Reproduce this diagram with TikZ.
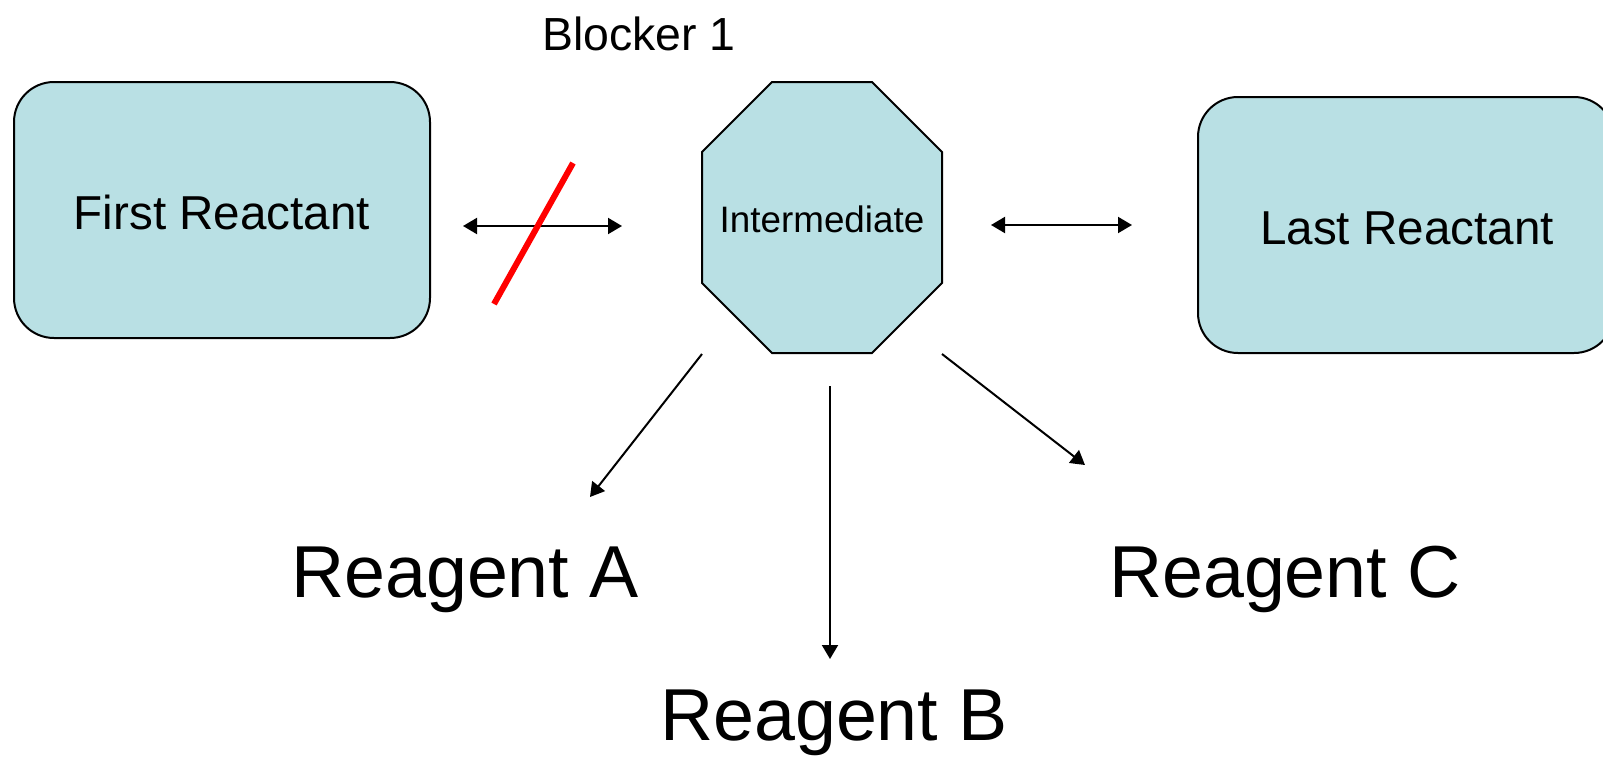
\documentclass[tikz,border=0pt]{standalone}
\usepackage{fontspec}
\setmainfont{Liberation Sans}
\usetikzlibrary{arrows.meta}
\definecolor{boxfill}{RGB}{185,224,228}
\definecolor{blockred}{RGB}{255,0,0}
\begin{document}
\begin{tikzpicture}[x=0.5pt,y=-0.5pt,
  reactbox/.style={draw=black,line width=1pt,fill=boxfill,rounded corners=20pt,
    minimum width=208pt,minimum height=128pt,inner sep=0pt},
  lbl/.style={inner sep=0pt,anchor=base},
  conn/.style={line width=1pt,-{Triangle[length=7pt,width=8pt]}},
  dconn/.style={line width=1pt,{Triangle[length=7pt,width=8pt]}-{Triangle[length=7pt,width=8pt]}},
  blockline/.style={draw=blockred,line width=3pt}]
\useasboundingbox (0,0) rectangle (1603,756);
\clip (0,0) rectangle (1603,756);
% boxes
\node[reactbox] (first) at (222,210) {};
\node[reactbox] (last) at (1406,225) {};
\node[lbl,font=\fontsize{23.8pt}{28pt}\selectfont] (firstlbl) at (222,229) {First Reactant};
\node[lbl,font=\fontsize{23.8pt}{28pt}\selectfont] (lastlbl) at (1407,244) {Last Reactant};
% octagon
\draw[line width=1pt,fill=boxfill] (772,82) -- (872,82) -- (942,152) -- (942,283) -- (872,353) -- (772,353) -- (702,283) -- (702,152) -- cycle;
\node[lbl,font=\fontsize{18.4pt}{22pt}\selectfont] (inter) at (822,232) {Intermediate};
% labels
\node[lbl,font=\fontsize{23.2pt}{28pt}\selectfont] (blocker) at (639,50) {Blocker 1};
\node[lbl,font=\fontsize{36.8pt}{44pt}\selectfont] (ra) at (465,597) {Reagent A};
\node[lbl,font=\fontsize{36.8pt}{44pt}\selectfont] (rb) at (834,740) {Reagent B};
\node[lbl,font=\fontsize{36.8pt}{44pt}\selectfont] (rc) at (1285,597) {Reagent C};
% connector endpoints
\coordinate (l1) at (463,226);
\coordinate (l2) at (622,226);
\coordinate (r1) at (991,225);
\coordinate (r2) at (1132,225);
\coordinate (b1) at (573,163);
\coordinate (b2) at (494,304);
\coordinate (a1) at (702,354);
\coordinate (a2) at (590,497);
\coordinate (bb1) at (830,386);
\coordinate (bb2) at (830,659);
\coordinate (c1) at (942,354);
\coordinate (c2) at (1085,465);
% connectors
\draw[dconn] (l1) -- (l2);
\draw[dconn] (r1) -- (r2);
\draw[blockline] (b1) -- (b2);
\draw[conn] (a1) -- (a2);
\draw[conn] (bb1) -- (bb2);
\draw[conn] (c1) -- (c2);
\end{tikzpicture}
\end{document}
